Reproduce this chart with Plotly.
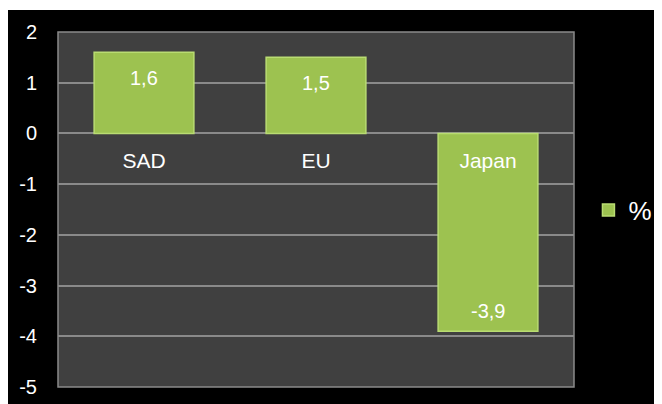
import plotly.graph_objects as go

categories = ["SAD", "EU", "Japan"]
values = [1.6, 1.5, -3.9]
series_name = "%"
y_tick_vals = [2, 1, 0, -1, -2, -3, -4, -5]
y_tick_text = ["2", "1", "0", "-1", "-2", "-3", "-4", "-5"]

value_text = [f"{v:.1f}".replace(".", ",") for v in values]

FONT = "Liberation Sans, Arial, sans-serif"

fig = go.Figure()
fig.add_trace(go.Bar(
    x=categories, y=values, name=series_name,
    marker=dict(color="#9dc250", line=dict(color="#b9dc72", width=1.5)),
    width=0.58, showlegend=True, hoverinfo="x+y",
))

for c, v, t in zip(categories, values, value_text):
    fig.add_annotation(x=c, y=v, text=t, showarrow=False,
                       yanchor="top" if v >= 0 else "bottom",
                       yshift=-13 if v >= 0 else 7,
                       font=dict(color="white", size=20, family=FONT))

# plot area background and border
fig.add_shape(type="rect", xref="paper", yref="paper",
              x0=0, x1=1, y0=0, y1=1,
              fillcolor="#404040", line=dict(color="#8a8a8a", width=1.5), layer="below")
# thin white strip along the top
fig.add_shape(type="rect", xref="paper", yref="paper",
              x0=-0.2, x1=1.3, y0=1.062, y1=1.2,
              fillcolor="white", line=dict(width=0), layer="below")

zero_pos = (0 - (-5)) / (2 - (-5))

fig.update_layout(
    width=662, height=404,
    margin=dict(l=50, r=96, t=24, b=25, autoexpand=False),
    paper_bgcolor="black", plot_bgcolor="rgba(0,0,0,0)",
    font=dict(family=FONT, color="white", size=20),
    xaxis=dict(anchor="free", position=zero_pos, showline=False, showgrid=False,
               zeroline=False, ticks="", ticklabelstandoff=13,
               tickfont=dict(size=21, color="white")),
    yaxis=dict(range=[-5, 2], tickvals=y_tick_vals, ticktext=y_tick_text,
               showgrid=True, gridcolor="#8a8a8a", gridwidth=1.5,
               zeroline=True, zerolinecolor="#8a8a8a", zerolinewidth=1.5,
               showline=False, ticks="", ticklabelstandoff=20,
               tickfont=dict(size=20, color="white")),
    legend=dict(x=1.028, y=0.498, xanchor="left", yanchor="middle",
                bgcolor="rgba(0,0,0,0)", font=dict(size=26, color="white"),
                itemwidth=30),
)

fig.write_html("out.html")
